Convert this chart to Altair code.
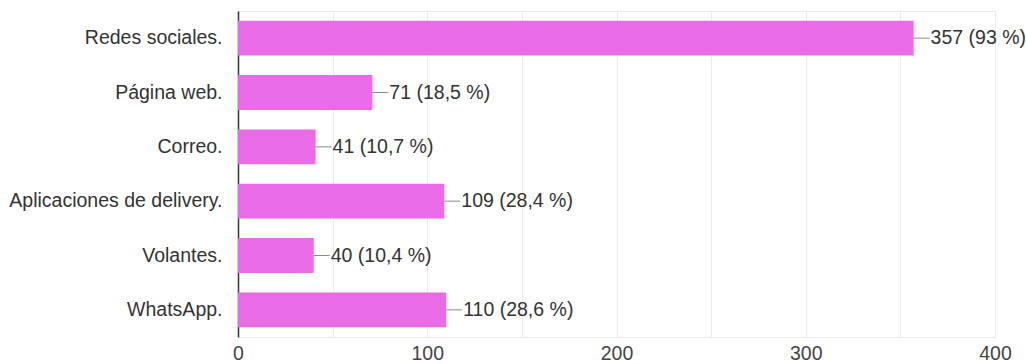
import altair as alt
import pandas as pd

categories = ["Redes sociales.", "Página web.", "Correo.", "Aplicaciones de delivery.", "Volantes.", "WhatsApp."]
values = [357, 71, 41, 109, 40, 110]
labels = ["357 (93 %)", "71 (18,5 %)", "41 (10,7 %)", "109 (28,4 %)", "40 (10,4 %)", "110 (28,6 %)"]

df = pd.DataFrame({"cat": categories, "val": values, "lab": labels})

FONT = "Liberation Sans"
FS = 19.5
y = alt.Y("cat:N", sort=categories, title=None,
          scale=alt.Scale(paddingInner=0.36, paddingOuter=0.18),
          axis=alt.Axis(labelFontSize=FS, labelColor="#333333", labelFont=FONT,
                        ticks=False, labelPadding=16, domainColor="#333333",
                        domainWidth=1.5, labelLimit=300))
x = alt.X("val:Q", title=None, scale=alt.Scale(domain=[0, 400], nice=False),
          axis=alt.Axis(values=list(range(0, 401, 50)),
                        labelExpr="datum.value % 100 == 0 ? datum.label : ''",
                        labelFontSize=FS, labelColor="#444444", labelFont=FONT,
                        ticks=False, domain=False, labelPadding=7,
                        gridColor="#ebebeb", labelFlush=False))

bars = alt.Chart(df).mark_bar(color="#e96be5").encode(x=x, y=y)
rules = alt.Chart(df).mark_rule(color="#8a8a8a", x2Offset=16, strokeWidth=1).encode(
    x="val:Q", x2="val:Q", y=alt.Y("cat:N", sort=categories, bandPosition=0.5))
texts = alt.Chart(df).mark_text(align="left", dx=17, fontSize=FS, font=FONT,
                                color="#333333").encode(
    x="val:Q", y=alt.Y("cat:N", sort=categories), text="lab:N")

chart = (bars + rules + texts).properties(
    width=757, height=326,
    padding={"left": 238, "top": 11, "right": 31, "bottom": 27},
    autosize=alt.AutoSizeParams(type="none"),
    background="white",
).configure_view(stroke="#ebebeb")

chart.save("out.html", embed_options={"renderer": "svg", "actions": False})
